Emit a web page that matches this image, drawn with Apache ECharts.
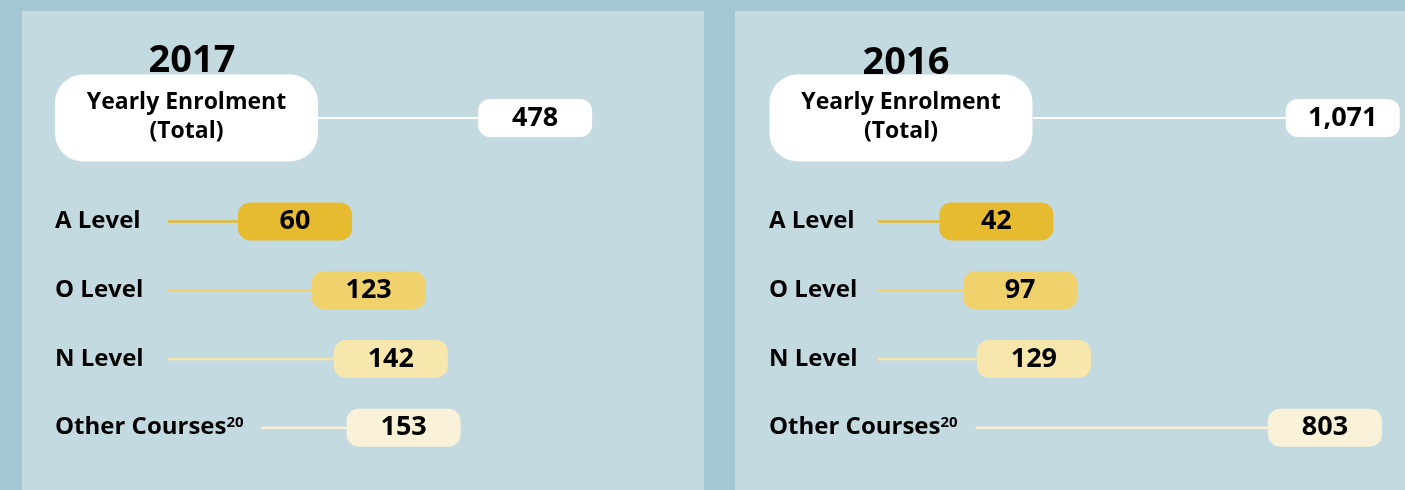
<!DOCTYPE html>
<html>
<head>
<meta charset="utf-8">
<script src="https://cdn.jsdelivr.net/npm/echarts@6/dist/echarts.min.js"></script>
<style>
  html, body { margin: 0; padding: 0; background: #a4c8d3; }
  #main { width: 1405px; height: 490px; }
</style>
</head>
<body>
<div id="main"></div>
<script>
var levels = ['A Level', 'O Level', 'N Level', 'Other Courses'];
var enrol2017 = [60, 123, 142, 153];
var enrol2016 = [42, 97, 129, 803];
var total2017 = [478];
var total2016 = [1071];
var totalLabel = ['Yearly Enrolment', '(Total)'];
var years = ['2017', '2016'];

var levelColors = ['#e6bb2f', '#efd26c', '#f7e7ac', '#faf2d8'];
var panelColor = '#c3dae1';
var font = '"Open Sans", "Noto Sans", sans-serif';

var dom = document.getElementById('main');
var myChart = echarts.init(dom, null, { renderer: 'canvas' });

// line from the grid's left edge to the value, then a rounded pill holding the number
function makePill(colors, lineWidth) {
  return function (params, api) {
    var cs = params.coordSys;
    var p = api.coord([api.value(0), api.value(1)]);
    var color = colors[params.dataIndex % colors.length];
    return {
      type: 'group',
      children: [
        { type: 'line', shape: { x1: cs.x, y1: p[1], x2: p[0], y2: p[1] },
          style: { stroke: color, lineWidth: lineWidth } },
        { type: 'rect', shape: { x: p[0], y: p[1] - 19, width: 114, height: 38, r: 12 },
          style: { fill: color },
          textContent: { style: { text: echarts.format.addCommas(api.value(0)),
            fontSize: 27, fontWeight: 'bold', fontFamily: font, fill: '#000' } },
          textConfig: { position: 'inside' } }
      ]
    };
  };
}

function rowsAxis(gridIndex, margin) {
  return {
    type: 'category', gridIndex: gridIndex, data: levels, inverse: true, z: 5,
    axisLine: { show: false }, axisTick: { show: false }, splitLine: { show: false },
    axisLabel: {
      align: 'left', margin: margin, color: '#000', fontSize: 24, fontWeight: 'bold',
      fontFamily: font, backgroundColor: panelColor, padding: [4, 18, 4, 0],
      formatter: function (v) { return v === 'Other Courses' ? v + '{sup|20}' : v; },
      rich: { sup: { fontSize: 15, fontWeight: 'bold', fontFamily: font, color: '#000',
        verticalAlign: 'top', padding: [0, 0, 8, 0] } }
    }
  };
}

function totalAxis(gridIndex, margin) {
  var line = { fontSize: 23, fontWeight: 'bold', fontFamily: font, color: '#000', lineHeight: 32 };
  return {
    type: 'category', gridIndex: gridIndex, data: [totalLabel.join('\n')], inverse: true, z: 5,
    axisLine: { show: false }, axisTick: { show: false }, splitLine: { show: false },
    axisLabel: {
      align: 'center', margin: margin, backgroundColor: '#fff', borderRadius: 28,
      width: 263, height: 70, padding: [9, 0, 8, 0],
      formatter: function () { return '{a|' + totalLabel[0] + '}\n{b|' + totalLabel[1] + '}'; },
      rich: { a: echarts.util.extend({ padding: [6, 0, 0, 0] }, line), b: line }
    }
  };
}

var option = {
  backgroundColor: '#a4c8d3',
  graphic: [
    { type: 'rect', z: -10, shape: { x: 22, y: 11, width: 682, height: 490 }, style: { fill: panelColor } },
    { type: 'rect', z: -10, shape: { x: 735, y: 11, width: 680, height: 490 }, style: { fill: panelColor } }
  ],
  title: [
    { text: years[0], left: 187, top: 37, textAlign: 'center',
      textStyle: { fontSize: 38, fontWeight: 'bold', color: '#000', fontFamily: font } },
    { text: years[1], left: 901, top: 39, textAlign: 'center',
      textStyle: { fontSize: 38, fontWeight: 'bold', color: '#000', fontFamily: font } }
  ],
  grid: [
    { left: 318, top: 99, width: 335, height: 38 },
    { left: 168, top: 187, width: 467, height: 275 },
    { left: 1033, top: 99, width: 354, height: 38 },
    { left: 878, top: 187, width: 475, height: 275 }
  ],
  xAxis: [
    { type: 'value', gridIndex: 0, min: 0, max: 1000, show: false },
    { type: 'value', gridIndex: 1, min: 0, max: 400, show: false },
    { type: 'value', gridIndex: 2, min: 0, max: 1500, show: false },
    { type: 'value', gridIndex: 3, min: -100, max: 1000, show: false }
  ],
  yAxis: [
    totalAxis(0, 131.5),
    rowsAxis(1, 113),
    totalAxis(2, 132),
    rowsAxis(3, 109)
  ],
  series: [
    { type: 'custom', xAxisIndex: 0, yAxisIndex: 0, renderItem: makePill(['#fff'], 2),
      encode: { x: 0, y: 1 }, data: total2017.map(function (v, i) { return [v, i]; }) },
    { type: 'custom', xAxisIndex: 1, yAxisIndex: 1, renderItem: makePill(levelColors, 2.5),
      encode: { x: 0, y: 1 }, data: enrol2017.map(function (v, i) { return [v, i]; }) },
    { type: 'custom', xAxisIndex: 2, yAxisIndex: 2, renderItem: makePill(['#fff'], 2),
      encode: { x: 0, y: 1 }, data: total2016.map(function (v, i) { return [v, i]; }) },
    { type: 'custom', xAxisIndex: 3, yAxisIndex: 3, renderItem: makePill(levelColors, 2.5),
      encode: { x: 0, y: 1 }, data: enrol2016.map(function (v, i) { return [v, i]; }) }
  ]
};

if (option && typeof option === 'object') {
  myChart.setOption(option);
}

window.addEventListener('resize', myChart.resize);
</script>
</body>
</html>
